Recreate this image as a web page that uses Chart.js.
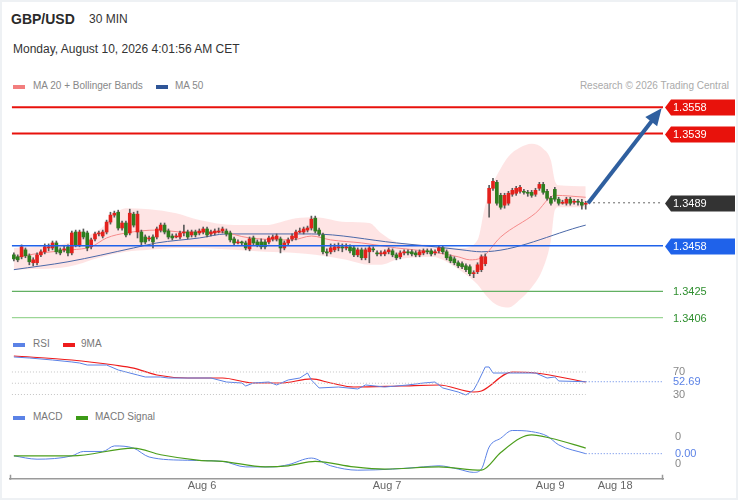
<!DOCTYPE html>
<html>
<head>
<meta charset="utf-8">
<script src="https://cdn.jsdelivr.net/npm/chart.js@4.4.0/dist/chart.umd.min.js"></script>
<style>
  html, body { margin: 0; padding: 0; background: #fff; }
  body { width: 738px; height: 500px; position: relative; overflow: hidden; font-family: "Liberation Sans", Arial, sans-serif; }
  #frame { position: absolute; left: 0; top: 0; width: 738px; height: 500px; box-sizing: border-box; border: 2px solid #eef1f4; pointer-events: none; }
  .t { position: absolute; white-space: nowrap; }
  .sw { position: absolute; width: 12px; height: 4px; }
  canvas { position: absolute; left: 0; }
</style>
</head>
<body>
<div class="t" style="left:11px;top:11px;font-size:14px;font-weight:bold;color:#2a2a2a">GBP/USD</div>
<div class="t" style="left:89px;top:12px;font-size:12px;color:#333">30 MIN</div>
<div class="t" style="left:13px;top:42px;font-size:12px;color:#333">Monday, August 10, 2026 4:01:56 AM CET</div>

<div class="sw" style="left:13px;top:85px;background:#f27e7e"></div>
<div class="t" style="left:33px;top:80px;font-size:10px;color:#888">MA 20 + Bollinger Bands</div>
<div class="sw" style="left:156px;top:85px;background:#2f5597"></div>
<div class="t" style="left:175px;top:80px;font-size:10px;color:#888">MA 50</div>
<div class="t" style="right:9px;top:80px;font-size:10px;color:#aaa">Research © 2026 Trading Central</div>

<div class="sw" style="left:13px;top:343px;background:#5b82e6"></div>
<div class="t" style="left:33px;top:338px;font-size:10px;color:#777">RSI</div>
<div class="sw" style="left:63px;top:343px;background:#ee1c1c"></div>
<div class="t" style="left:81px;top:338px;font-size:10px;color:#777">9MA</div>

<div class="sw" style="left:13px;top:416px;background:#5b82e6"></div>
<div class="t" style="left:33px;top:411px;font-size:10px;color:#777">MACD</div>
<div class="sw" style="left:76px;top:416px;background:#3c9a16"></div>
<div class="t" style="left:95px;top:411px;font-size:10px;color:#777">MACD Signal</div>

<canvas id="price" width="738" height="235" style="top:95px"></canvas>
<canvas id="rsi" width="738" height="50" style="top:350px"></canvas>
<canvas id="macd" width="738" height="75" style="top:425px"></canvas>
<div id="frame"></div>

<script>
// 30 min candles, index 0 = first candle on the left
var opens = [
  1.34514, 1.34500, 1.34500, 1.34550, 1.34507, 1.34457, 1.34457, 1.34514, 1.34536, 1.34564,
  1.34564, 1.34600, 1.34550, 1.34550, 1.34572, 1.34528, 1.34679, 1.34586, 1.34679, 1.34672,
  1.34572, 1.34629, 1.34665, 1.34650, 1.34679, 1.34751, 1.34801, 1.34822, 1.34708, 1.34744,
  1.34672, 1.34808, 1.34679, 1.34679, 1.34643, 1.34629, 1.34643, 1.34643, 1.34693, 1.34729,
  1.34686, 1.34650, 1.34643, 1.34643, 1.34672, 1.34679, 1.34658, 1.34679, 1.34672, 1.34679,
  1.34701, 1.34665, 1.34672, 1.34679, 1.34686, 1.34686, 1.34672, 1.34629, 1.34600, 1.34607,
  1.34600, 1.34557, 1.34636, 1.34607, 1.34607, 1.34607, 1.34607, 1.34629, 1.34629, 1.34629,
  1.34564, 1.34600, 1.34629, 1.34636, 1.34679, 1.34679, 1.34693, 1.34708, 1.34779, 1.34693,
  1.34658, 1.34536, 1.34536, 1.34550, 1.34564, 1.34572, 1.34564, 1.34572, 1.34564, 1.34514,
  1.34550, 1.34493, 1.34536, 1.34557, 1.34528, 1.34521, 1.34521, 1.34536, 1.34543, 1.34514,
  1.34500, 1.34528, 1.34536, 1.34536, 1.34528, 1.34514, 1.34528, 1.34543, 1.34543, 1.34528,
  1.34543, 1.34564, 1.34536, 1.34500, 1.34485, 1.34457, 1.34450, 1.34435, 1.34428, 1.34378,
  1.34392, 1.34407, 1.34450, 1.34887, 1.34995, 1.35038, 1.34944, 1.34873, 1.34887, 1.34952,
  1.34959, 1.34973, 1.34973, 1.34966, 1.34966, 1.34952, 1.34995, 1.35023, 1.34973, 1.34923,
  1.34987, 1.34916, 1.34887, 1.34887, 1.34916, 1.34894, 1.34901, 1.34894, 1.34880
];
var highs = [
  1.34528, 1.34514, 1.34586, 1.34564, 1.34521, 1.34493, 1.34528, 1.34550, 1.34593, 1.34593,
  1.34614, 1.34614, 1.34564, 1.34579, 1.34586, 1.34686, 1.34693, 1.34693, 1.34701, 1.34686,
  1.34636, 1.34679, 1.34686, 1.34693, 1.34765, 1.34822, 1.34830, 1.34837, 1.34758, 1.34758,
  1.34844, 1.34822, 1.34830, 1.34693, 1.34658, 1.34650, 1.34658, 1.34715, 1.34744, 1.34744,
  1.34701, 1.34665, 1.34665, 1.34686, 1.34729, 1.34693, 1.34693, 1.34693, 1.34701, 1.34715,
  1.34715, 1.34693, 1.34701, 1.34708, 1.34715, 1.34701, 1.34686, 1.34643, 1.34622, 1.34614,
  1.34614, 1.34643, 1.34650, 1.34622, 1.34629, 1.34622, 1.34650, 1.34658, 1.34665, 1.34643,
  1.34614, 1.34636, 1.34665, 1.34693, 1.34708, 1.34715, 1.34722, 1.34794, 1.34794, 1.34708,
  1.34672, 1.34557, 1.34593, 1.34593, 1.34600, 1.34593, 1.34593, 1.34586, 1.34579, 1.34564,
  1.34564, 1.34564, 1.34579, 1.34572, 1.34543, 1.34543, 1.34550, 1.34564, 1.34557, 1.34528,
  1.34543, 1.34550, 1.34550, 1.34550, 1.34543, 1.34550, 1.34557, 1.34557, 1.34557, 1.34550,
  1.34579, 1.34579, 1.34550, 1.34514, 1.34500, 1.34471, 1.34464, 1.34450, 1.34442, 1.34399,
  1.34457, 1.34514, 1.34521, 1.35016, 1.35066, 1.35052, 1.34959, 1.34959, 1.34973, 1.34995,
  1.35009, 1.35016, 1.34987, 1.34980, 1.34980, 1.34995, 1.35038, 1.35038, 1.34987, 1.34937,
  1.35002, 1.34930, 1.34909, 1.34930, 1.34930, 1.34916, 1.34916, 1.34916, 1.34901
];
var lows = [
  1.34471, 1.34464, 1.34485, 1.34493, 1.34442, 1.34435, 1.34442, 1.34500, 1.34521, 1.34543,
  1.34550, 1.34521, 1.34514, 1.34536, 1.34507, 1.34514, 1.34572, 1.34572, 1.34629, 1.34543,
  1.34557, 1.34614, 1.34650, 1.34636, 1.34665, 1.34736, 1.34786, 1.34693, 1.34693, 1.34643,
  1.34658, 1.34715, 1.34636, 1.34579, 1.34593, 1.34614, 1.34564, 1.34629, 1.34679, 1.34665,
  1.34629, 1.34622, 1.34636, 1.34629, 1.34650, 1.34629, 1.34643, 1.34643, 1.34658, 1.34665,
  1.34643, 1.34650, 1.34658, 1.34672, 1.34672, 1.34650, 1.34607, 1.34586, 1.34593, 1.34586,
  1.34550, 1.34543, 1.34586, 1.34572, 1.34557, 1.34557, 1.34593, 1.34614, 1.34614, 1.34528,
  1.34550, 1.34586, 1.34614, 1.34622, 1.34672, 1.34665, 1.34679, 1.34693, 1.34672, 1.34650,
  1.34521, 1.34507, 1.34521, 1.34536, 1.34543, 1.34536, 1.34550, 1.34528, 1.34500, 1.34500,
  1.34478, 1.34478, 1.34457, 1.34536, 1.34507, 1.34507, 1.34507, 1.34521, 1.34500, 1.34478,
  1.34485, 1.34514, 1.34514, 1.34507, 1.34500, 1.34500, 1.34514, 1.34521, 1.34507, 1.34514,
  1.34528, 1.34521, 1.34478, 1.34457, 1.34442, 1.34421, 1.34414, 1.34392, 1.34364, 1.34349,
  1.34378, 1.34392, 1.34435, 1.34786, 1.34980, 1.34873, 1.34844, 1.34851, 1.34873, 1.34937,
  1.34944, 1.34959, 1.34952, 1.34937, 1.34930, 1.34937, 1.34980, 1.34952, 1.34909, 1.34873,
  1.34901, 1.34873, 1.34880, 1.34873, 1.34873, 1.34880, 1.34873, 1.34844, 1.34844
];
var closes = [
  1.34485, 1.34478, 1.34572, 1.34507, 1.34464, 1.34478, 1.34514, 1.34536, 1.34572, 1.34572,
  1.34600, 1.34536, 1.34528, 1.34557, 1.34528, 1.34672, 1.34586, 1.34679, 1.34643, 1.34564,
  1.34622, 1.34665, 1.34672, 1.34679, 1.34751, 1.34801, 1.34815, 1.34708, 1.34744, 1.34658,
  1.34815, 1.34729, 1.34808, 1.34607, 1.34607, 1.34636, 1.34607, 1.34701, 1.34729, 1.34679,
  1.34643, 1.34636, 1.34650, 1.34672, 1.34679, 1.34643, 1.34679, 1.34658, 1.34686, 1.34701,
  1.34658, 1.34679, 1.34686, 1.34686, 1.34701, 1.34665, 1.34622, 1.34600, 1.34607, 1.34600,
  1.34564, 1.34629, 1.34600, 1.34586, 1.34572, 1.34572, 1.34636, 1.34643, 1.34650, 1.34564,
  1.34600, 1.34622, 1.34650, 1.34679, 1.34686, 1.34701, 1.34708, 1.34772, 1.34686, 1.34665,
  1.34536, 1.34528, 1.34564, 1.34572, 1.34572, 1.34564, 1.34572, 1.34543, 1.34514, 1.34550,
  1.34493, 1.34550, 1.34564, 1.34550, 1.34521, 1.34528, 1.34536, 1.34550, 1.34514, 1.34493,
  1.34528, 1.34536, 1.34528, 1.34521, 1.34514, 1.34536, 1.34543, 1.34536, 1.34521, 1.34536,
  1.34564, 1.34536, 1.34493, 1.34471, 1.34457, 1.34435, 1.34428, 1.34407, 1.34378, 1.34385,
  1.34442, 1.34500, 1.34500, 1.34995, 1.35045, 1.34887, 1.34858, 1.34944, 1.34959, 1.34980,
  1.34995, 1.35002, 1.34966, 1.34959, 1.34944, 1.34980, 1.35023, 1.34966, 1.34923, 1.34887,
  1.34916, 1.34887, 1.34894, 1.34916, 1.34887, 1.34901, 1.34894, 1.34873, 1.34887
];

// MA 20 + Bollinger bands, MA 50 (at these candle indexes)
var bbIdx   = [0, 14, 22, 29, 35, 42, 48, 57, 65, 73, 78, 86, 92, 95, 99, 108, 116, 120, 122, 124, 126, 128, 131, 134, 137, 139, 140, 141, 148];
var bbUpper = [1.34564, 1.34600, 1.34693, 1.34851, 1.34844, 1.34815, 1.34765, 1.34729, 1.34729, 1.34779, 1.34786, 1.34751, 1.34744, 1.34672, 1.34607,
               1.34586, 1.34564, 1.34622, 1.34873, 1.35031, 1.35138, 1.35224, 1.35289, 1.35317, 1.35281, 1.35195, 1.35052, 1.35016, 1.35009];
var bbLower = [1.34407, 1.34428, 1.34493, 1.34536, 1.34550, 1.34564, 1.34564, 1.34550, 1.34536, 1.34528, 1.34514, 1.34478, 1.34442, 1.34442, 1.34478,
               1.34500, 1.34392, 1.34299, 1.34227, 1.34170, 1.34141, 1.34134, 1.34192, 1.34278, 1.34421, 1.34622, 1.34837, 1.34858, 1.34858];
var ma20Idx = [0, 7, 15, 20, 24, 29, 37, 44, 53, 61, 72, 77, 82, 90, 99, 108, 115, 118, 121, 126, 135, 140, 148];
var ma20    = [1.34493, 1.34528, 1.34550, 1.34572, 1.34636, 1.34672, 1.34693, 1.34679, 1.34679, 1.34636, 1.34622, 1.34650, 1.34622, 1.34600, 1.34564,
               1.34536, 1.34500, 1.34478, 1.34493, 1.34643, 1.34815, 1.34944, 1.34930];
var ma50Idx = [0, 14, 31, 37, 48, 55, 77, 99, 109, 116, 121, 148];
var ma50    = [1.34407, 1.34464, 1.34564, 1.34600, 1.34636, 1.34665, 1.34665, 1.34600, 1.34572, 1.34550, 1.34536, 1.34729];

// support / resistance levels
var levels = [1.3558, 1.3539, 1.3489, 1.3458, 1.3425, 1.3406];
var arrowFrom = [148.6, 1.34887];
var arrowTo = [166.7, 1.35539];

// RSI (14) and its 9 period average
var rsiIdx = [0, 4, 10, 15, 17, 19, 24, 27, 29, 32, 34, 38, 40, 45, 51, 55, 59, 60, 62, 66, 68, 71, 74, 76, 77, 79, 84, 89, 91, 96, 102, 106, 109, 111,
              115, 117, 119, 120, 122, 123, 124, 128, 131, 135, 138, 140, 141, 148];
var rsi    = [96.7, 94.9, 91.3, 87.8, 86.0, 82.4, 82.4, 73.6, 70.0, 64.7, 61.1, 61.1, 59.3, 59.3, 59.3, 52.2, 50.4, 45.1, 50.4, 52.2, 46.9, 55.8, 59.3,
              68.2, 55.8, 41.6, 43.3, 39.8, 46.9, 43.3, 46.9, 50.4, 52.2, 41.6, 34.4, 29.1, 38.0, 50.4, 78.9, 78.9, 68.2, 68.2, 68.2, 68.2, 59.3, 61.1, 54.0, 52.69];
var rsiMaIdx = [0, 15, 26, 31, 37, 45, 54, 62, 69, 77, 82, 88, 100, 110, 119, 121, 129, 135, 148];
var rsiMa    = [98.4, 91.3, 82.4, 77.0, 64.7, 59.3, 59.3, 50.4, 50.4, 57.6, 50.4, 43.3, 45.1, 46.9, 34.4, 36.2, 70.0, 68.2, 52.2];
var rsiLevels = [70, 50, 30];
var rsiTicks = [30, 52.69, 70];

// MACD (12, 26, 9)
var macdIdx = [0, 6, 15, 18, 23, 26, 31, 35, 45, 54, 60, 67, 71, 77, 82, 89, 98, 106, 110, 115, 119, 121, 123, 126, 129, 134, 138, 141, 148];
var macd    = [-0.00004, -0.0001, -0.00004, 0.00004, 0.00004, 0.00014, 0.0001, -0.00006, -0.00012, -0.00014, -0.00024, -0.00024, -0.0002, -0.00008, -0.00022,
               -0.0003, -0.00028, -0.00024, -0.00022, -0.00028, -0.00034, -0.00028, 0.00012, 0.00028, 0.00042, 0.0004, 0.00032, 0.00016, 0];
var sigIdx = [0, 15, 31, 38, 48, 54, 65, 71, 78, 88, 96, 110, 121, 126, 131, 134, 139, 148];
var signal = [-0.00004, -0.00004, 0.0001, -0.00002, -0.00012, -0.00014, -0.00024, -0.00022, -0.00014, -0.00024, -0.00028, -0.00024, -0.0003, 0.00002,
              0.00028, 0.00034, 0.00028, 0.0001];
var macdTicks = [-0.00018, 0, 0.0003];
var macdTickLabels = ['0', '0.00', '0'];

// time axis
var xLabelIdx = [48.7, 96.6, 138.8, 155.6];
var xLabels = ['Aug 6', 'Aug 7', 'Aug 9', 'Aug 18'];

var xMin = -1, xMax = 168;
var lastIdx = closes.length - 1;

var RED = '#e3211c', GREEN = '#2e7d1f', WICK = '#5a5a5a';
var BLUE_LINE = '#5b82e6';
var levelStyle = [
  { line: '#e8120c', width: 2, box: '#e8120c', text: '#fff' },
  { line: '#e8120c', width: 2, box: '#e8120c', text: '#fff' },
  { line: '#666', width: 1, dash: [2, 3], box: '#333', text: '#fff', fromLast: true },
  { line: '#1f62ea', width: 1.5, box: '#1f62ea', text: '#fff' },
  { line: '#62b062', width: 1.2, text: '#2f8f2f' },
  { line: '#9cd696', width: 1.2, text: '#2f8f2f' }
];

Chart.defaults.font.family = '"Liberation Sans", Arial, sans-serif';
Chart.defaults.animation = false;
Chart.defaults.plugins.legend.display = false;
Chart.defaults.plugins.tooltip.enabled = false;

function pts(idx, vals) {
  return idx.map(function (x, k) { return { x: x, y: vals[k] }; });
}

function flat(v, from, to) {
  return [{ x: from, y: v }, { x: to, y: v }];
}

function lineSet(data, color, width, extra) {
  return Object.assign({
    type: 'line', data: data, borderColor: color, borderWidth: width,
    pointRadius: 0, fill: false, tension: 0
  }, extra || {});
}

function xScale(extra) {
  return Object.assign({ type: 'linear', min: xMin, max: xMax, offset: false, display: false, grid: { offset: false } }, extra || {});
}

// right hand value axis, fixed width so every panel shares the same plot width
function yScale(min, max, ticks, tickValues) {
  return {
    type: 'linear', position: 'right', min: min, max: max, beginAtZero: false,
    grid: { display: false, drawTicks: false }, border: { display: false },
    ticks: ticks || { display: false },
    afterBuildTicks: function (s) {
      if (tickValues) s.ticks = tickValues.map(function (v) { return { value: v }; });
    },
    afterFit: function (s) { s.width = 75; s.paddingTop = 0; s.paddingBottom = 0; }
  };
}

var isUp = closes.map(function (c, i) { return c >= opens[i]; });

// price panel
var priceSets = [
  lineSet(pts(bbIdx, bbUpper), 'rgba(0,0,0,0)', 0, { cubicInterpolationMode: 'monotone', order: 10 }),
  lineSet(pts(bbIdx, bbLower), 'rgba(0,0,0,0)', 0, { cubicInterpolationMode: 'monotone', order: 10, fill: '-1', backgroundColor: 'rgba(253, 205, 205, 0.55)' }),
  lineSet(pts(ma20Idx, ma20), '#f58a8a', 1, { cubicInterpolationMode: 'monotone', order: 8 }),
  lineSet(pts(ma50Idx, ma50), '#4a68a8', 1, { cubicInterpolationMode: 'monotone', order: 8 }),
  {
    type: 'bar', order: 6, grouped: false, barThickness: 1,
    data: lows.map(function (l, i) { return { x: i, y: [l, highs[i]] }; }),
    backgroundColor: WICK
  },
  {
    type: 'bar', order: 5, grouped: false, barThickness: 3, minBarLength: 1,
    data: opens.map(function (o, i) { return { x: i, y: [o, closes[i]] }; }),
    backgroundColor: isUp.map(function (u) { return u ? RED : GREEN; })
  }
];
levels.forEach(function (lv, k) {
  var st = levelStyle[k];
  priceSets.push(lineSet(flat(lv, st.fromLast ? lastIdx + 0.6 : xMin + 0.5, xMax), st.line, st.width, { borderDash: st.dash || [], order: 3 }));
});
priceSets.push(lineSet([{ x: arrowFrom[0], y: arrowFrom[1] }, { x: arrowTo[0], y: arrowTo[1] }], '#2f5f9f', 4, { order: 1 }));

var priceLabels = {
  id: 'priceLabels',
  afterDatasetsDraw: function (chart) {
    var ctx = chart.ctx, area = chart.chartArea, x = chart.scales.x, y = chart.scales.y;
    ctx.save();
    // arrow head
    var x0 = x.getPixelForValue(arrowFrom[0]), y0 = y.getPixelForValue(arrowFrom[1]);
    var x1 = x.getPixelForValue(arrowTo[0]), y1 = y.getPixelForValue(arrowTo[1]);
    var a = Math.atan2(y1 - y0, x1 - x0);
    var tx = x1 + 6 * Math.cos(a), ty = y1 + 6 * Math.sin(a);
    var bx = tx - 17 * Math.cos(a), by = ty - 17 * Math.sin(a);
    ctx.fillStyle = '#2f5f9f';
    ctx.beginPath();
    ctx.moveTo(tx, ty);
    ctx.lineTo(bx + 7.5 * Math.sin(a), by - 7.5 * Math.cos(a));
    ctx.lineTo(bx - 7.5 * Math.sin(a), by + 7.5 * Math.cos(a));
    ctx.closePath();
    ctx.fill();
    // level tags on the right
    ctx.font = '11px "Liberation Sans", Arial, sans-serif';
    ctx.textBaseline = 'middle';
    ctx.textAlign = 'left';
    var left = area.right + 2;
    levels.forEach(function (lv, k) {
      var st = levelStyle[k];
      var py = Math.round(y.getPixelForValue(lv)) + 0.5;
      if (st.box) {
        ctx.fillStyle = st.box;
        ctx.beginPath();
        ctx.moveTo(left, py);
        ctx.lineTo(left + 6, py - 8);
        ctx.lineTo(left + 70, py - 8);
        ctx.lineTo(left + 70, py + 8);
        ctx.lineTo(left + 6, py + 8);
        ctx.closePath();
        ctx.fill();
      }
      ctx.fillStyle = st.text;
      ctx.fillText(lv.toFixed(4), left + 8, py + 0.5);
    });
    ctx.restore();
  }
};

new Chart(document.getElementById('price'), {
  type: 'bar',
  data: { datasets: priceSets },
  options: {
    responsive: false,
    layout: { padding: { left: 10, right: 0, top: 0, bottom: 0 } },
    scales: { x: xScale(), y: yScale(1.33971, 1.35669) }
  },
  plugins: [priceLabels]
});

// RSI panel
var rsiSets = rsiLevels.map(function (v) {
  return lineSet(flat(v, xMin + 0.5, lastIdx), '#c4c4c4', 1, { borderDash: [1, 2] });
});
rsiSets.push(lineSet(flat(rsi[rsi.length - 1], lastIdx, xMax), BLUE_LINE, 1, { borderDash: [1, 2] }));
rsiSets.push(lineSet(pts(rsiIdx, rsi), BLUE_LINE, 1));
rsiSets.push(lineSet(pts(rsiMaIdx, rsiMa), '#ee1c1c', 1.2, { cubicInterpolationMode: 'monotone' }));

new Chart(document.getElementById('rsi'), {
  type: 'line',
  data: { datasets: rsiSets },
  options: {
    responsive: false,
    layout: { padding: { left: 10, right: 0, top: 0, bottom: 0 } },
    scales: {
      x: xScale(),
      y: yScale(20.2, 109.1, {
        display: true, padding: 10, autoSkip: false,
        font: { size: 11 },
        color: function (c) { return c.tick && c.tick.value === rsiTicks[1] ? BLUE_LINE : '#888'; },
        callback: function (v) { return v === rsiTicks[1] ? v.toFixed(2) : String(v); }
      }, rsiTicks)
    }
  }
});

// MACD panel with the time axis
var axisEnds = {
  id: 'axisEnds',
  afterDraw: function (chart) {
    var ctx = chart.ctx, area = chart.chartArea;
    ctx.save();
    ctx.strokeStyle = '#9a9a9a';
    ctx.lineWidth = 1.5;
    ctx.beginPath();
    ctx.moveTo(area.left + 0.5, area.bottom - 4);
    ctx.lineTo(area.left + 0.5, area.bottom + 1);
    ctx.moveTo(area.right - 0.5, area.bottom - 4);
    ctx.lineTo(area.right - 0.5, area.bottom + 1);
    ctx.stroke();
    ctx.restore();
  }
};

new Chart(document.getElementById('macd'), {
  type: 'line',
  data: {
    datasets: [
      lineSet(flat(0, lastIdx, xMax), BLUE_LINE, 1, { borderDash: [1, 2] }),
      lineSet(pts(sigIdx, signal), '#4c9e1c', 1.2, { cubicInterpolationMode: 'monotone' }),
      lineSet(pts(macdIdx, macd), BLUE_LINE, 1, { cubicInterpolationMode: 'monotone' })
    ]
  },
  options: {
    responsive: false,
    layout: { padding: { left: 10, right: 0, top: 0, bottom: 6 } },
    scales: {
      x: xScale({
        display: true,
        grid: { display: false, drawTicks: false, offset: false },
        border: { display: true, color: '#9a9a9a', width: 1.5 },
        ticks: {
          autoSkip: false, maxRotation: 0, padding: 1,
          font: { size: 11 }, color: '#666',
          callback: function (v, i) { return xLabels[i]; }
        },
        afterBuildTicks: function (s) { s.ticks = xLabelIdx.map(function (v) { return { value: v }; }); },
        afterFit: function (s) { s.paddingLeft = 0; s.paddingRight = 0; }
      }),
      y: yScale(-0.000456, 0.00052, {
        display: true, padding: 12, autoSkip: false,
        font: { size: 11 },
        color: function (c) { return c.tick && c.tick.value === 0 ? BLUE_LINE : '#888'; },
        callback: function (v, i) { return macdTickLabels[i]; }
      }, macdTicks)
    }
  },
  plugins: [axisEnds]
});
</script>
</body>
</html>
